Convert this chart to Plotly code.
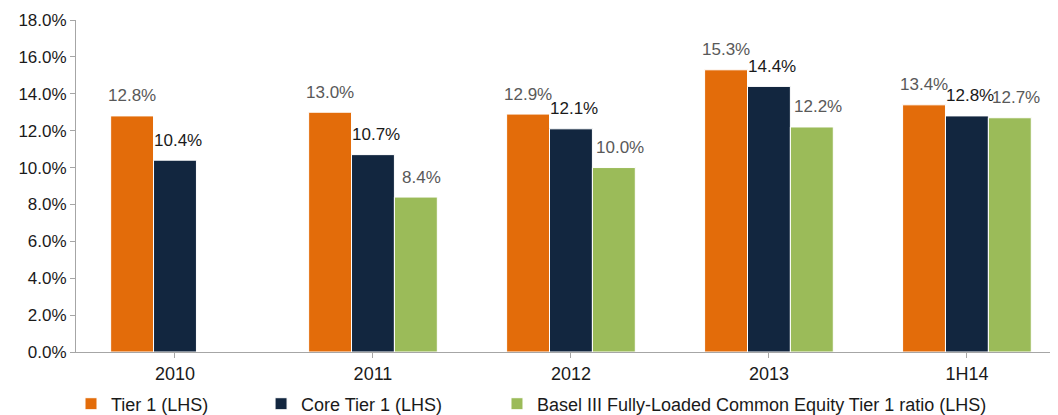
import plotly.graph_objects as go

categories = ["2010", "2011", "2012", "2013", "1H14"]
tier1 = [12.8, 13.0, 12.9, 15.3, 13.4]
core_tier1 = [10.4, 10.7, 12.1, 14.4, 12.8]
basel3 = [None, 8.4, 10.0, 12.2, 12.7]
y_ticks = [0, 2, 4, 6, 8, 10, 12, 14, 16, 18]

# name, values, bar colour, label colour, label xshift, bar offset within group, legend id, legend x
series = [
    ("Tier 1 (LHS)", tier1, "#E36C0A", "#595959", 0, -0.217, "legend", 0.060),
    ("Core Tier 1 (LHS)", core_tier1, "#12263F", "#1a1a1a", 3, 0.0, "legend2", 0.241),
    ("Basel III Fully-Loaded Common Equity Tier 1 ratio (LHS)", basel3, "#9BBB59", "#595959", 6, 0.217, "legend3", 0.4657),
]

FONT = "Liberation Sans, Arial, sans-serif"

fig = go.Figure()
annotations = []
legends = {}
for name, vals, color, lblcolor, xs, off, leg, lx in series:
    fig.add_trace(go.Bar(
        x=list(range(len(categories))), y=vals, name=name, legend=leg,
        marker=dict(color=color, line=dict(color="white", width=1)),
    ))
    legends[leg] = dict(
        orientation="h", xref="container", yref="container",
        x=lx, xanchor="left", y=0.027, yanchor="middle",
        font=dict(family=FONT, size=18, color="#1a1a1a"),
        itemwidth=30, bgcolor="rgba(0,0,0,0)",
    )
    for i, v in enumerate(vals):
        if v is None:
            continue
        annotations.append(dict(
            x=i + off, y=v, xref="x", yref="y", text=f"{v:.1f}%",
            showarrow=False, yanchor="middle", yshift=20, xshift=xs,
            font=dict(family=FONT, size=17, color=lblcolor),
        ))

fig.update_layout(
    width=1050, height=407,
    margin=dict(l=68, r=0, t=12, b=63, autoexpand=False),
    paper_bgcolor="white", plot_bgcolor="white",
    barmode="group", bargap=0.35, bargroupgap=0,
    font=dict(family=FONT, size=17, color="#1a1a1a"),
    showlegend=True,
    annotations=annotations,
    **legends,
)
fig.update_xaxes(
    tickmode="array", tickvals=list(range(len(categories))), ticktext=categories,
    range=[-0.5, 4.46], showgrid=False, showline=True, linecolor="#a6a6a6", linewidth=1,
    ticks="outside", tickson="boundaries", ticklen=5, tickcolor="#a6a6a6",
    tickfont=dict(family=FONT, size=18, color="#1a1a1a"), automargin=False,
)
fig.update_yaxes(
    range=[0, 18], tickvals=y_ticks, ticktext=[f"{t:.1f}%" for t in y_ticks],
    showgrid=False, showline=True, linecolor="#a6a6a6", linewidth=1,
    ticks="outside", ticklen=5, tickcolor="#a6a6a6", zeroline=False,
    tickfont=dict(family=FONT, size=17, color="#1a1a1a"), automargin=False,
)

fig.write_html("out.html")
